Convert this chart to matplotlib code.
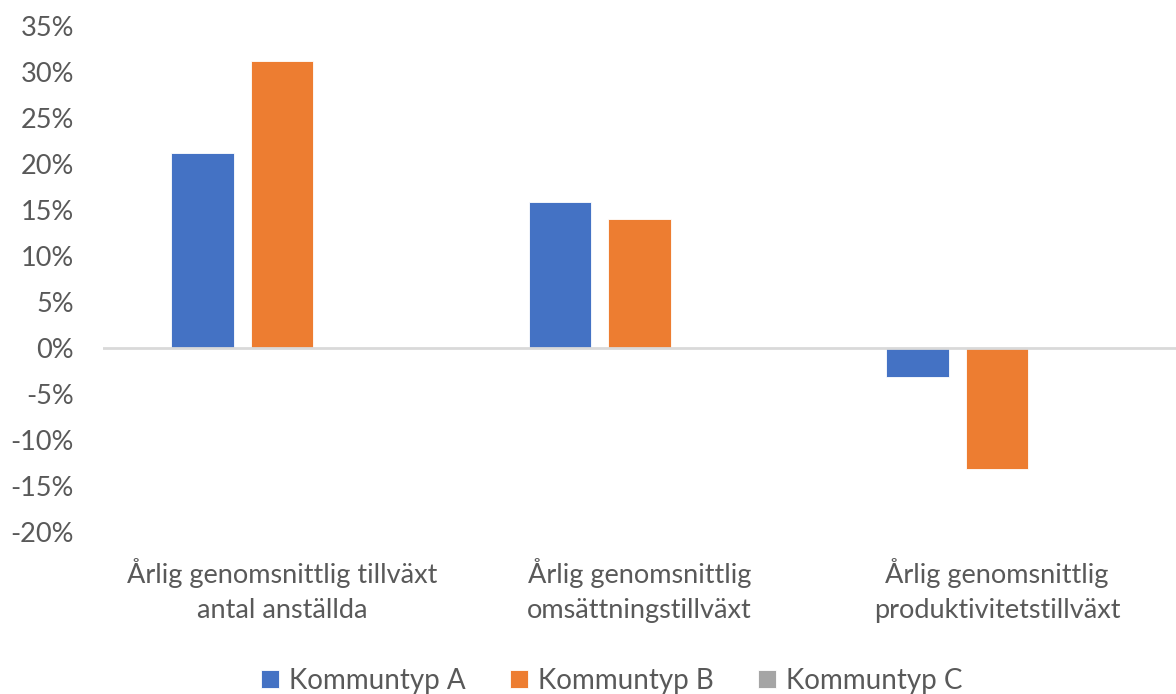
import matplotlib.pyplot as plt
import numpy as np
from matplotlib.ticker import FuncFormatter

categories = [
    "Årlig genomsnittlig tillväxt\nantal anställda",
    "Årlig genomsnittlig\nomsättningstillväxt",
    "Årlig genomsnittlig\nproduktivitetstillväxt",
]
series_names = ["Kommuntyp A", "Kommuntyp B", "Kommuntyp C"]
typ_a = [21.2, 15.9, -3.1]
typ_b = [31.2, 14.0, -13.2]
typ_c = [0.0, 0.0, 0.0]
colors = ["#4472c4", "#ed7d31", "#a5a5a5"]

plt.rcParams["font.family"] = ["Lato", "DejaVu Sans"]
text_color = "#595959"

fig = plt.figure(figsize=(11.76, 6.94), dpi=100)
ax = fig.add_axes([103 / 1176, 1 - 532 / 694, 1 - 103 / 1176, (532 - 26) / 694])

x = np.arange(len(categories))
slot = 0.222
width = 0.175
for i, (vals, name) in enumerate(zip([typ_a, typ_b, typ_c], series_names)):
    ax.bar(x + (i - 1) * slot, vals, width, color=colors[i], label=name,
           edgecolor="white", linewidth=0.6, zorder=2)

ax.axhline(0, color="#d9d9d9", linewidth=2, zorder=3)

ax.set_xlim(-0.5, 2.5)
ax.set_ylim(-20, 35)
ax.set_yticks(np.arange(-20, 36, 5))
ax.yaxis.set_major_formatter(FuncFormatter(lambda v, p: f"{v:.0f}%"))
ax.tick_params(axis="y", length=0, labelsize=19.5, labelcolor=text_color, pad=21)
ax.set_xticks(x)
ax.set_xticklabels(categories)
ax.tick_params(axis="x", length=0, labelsize=19.5, labelcolor=text_color, pad=19)
for lbl in ax.get_xticklabels():
    lbl.set_linespacing(1.5)
for s in ax.spines.values():
    s.set_visible(False)

leg = fig.legend(loc="lower center", ncol=3, frameon=False, fontsize=20,
                 bbox_to_anchor=(0.52, -0.036), handlelength=0.65, handleheight=0.65,
                 handletextpad=0.35, columnspacing=1.6)
for t in leg.get_texts():
    t.set_color(text_color)

fig.savefig("out.png", dpi=100)
